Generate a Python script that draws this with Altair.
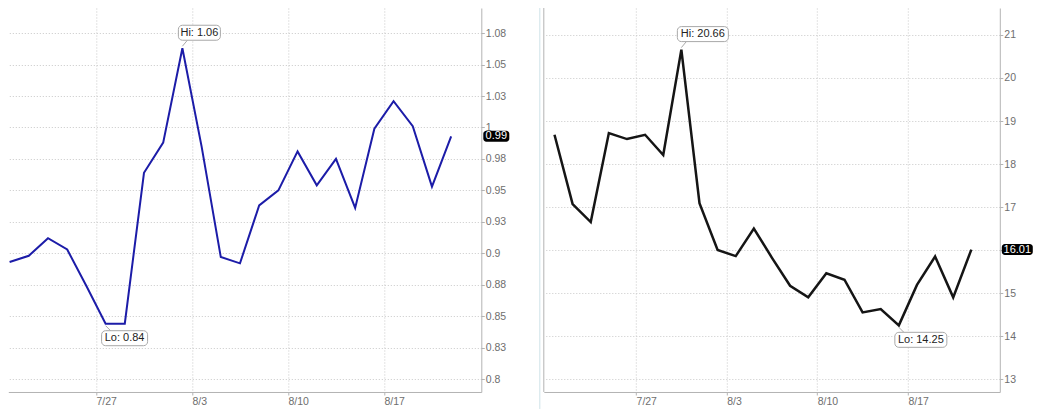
# imports
import pandas as pd
import altair as alt

# trading days shown on both panels
dates = ['7/20', '7/21', '7/22', '7/23', '7/24',
         '7/27', '7/28', '7/29', '7/30', '7/31',
         '8/3', '8/4', '8/5', '8/6', '8/7',
         '8/10', '8/11', '8/12', '8/13', '8/14',
         '8/17', '8/18', '8/19', '8/20']
week_labels = ['7/27', '8/3', '8/10', '8/17']

# series
left_values = [0.893, 0.898, 0.912, 0.903, 0.874, 0.844, 0.844, 0.964, 0.988, 1.063,
               0.985, 0.897, 0.892, 0.938, 0.950, 0.981, 0.954, 0.975, 0.936, 0.999,
               1.021, 1.001, 0.953, 0.993]
right_values = [18.68, 17.07, 16.65, 18.72, 18.58, 18.68, 18.21, 20.66, 17.09, 16.00,
                15.86, 16.50, 15.82, 15.17, 14.90, 15.46, 15.31, 14.55, 14.63, 14.25,
                15.19, 15.85, 14.90, 16.01]

# y ticks and the labels the chart prints for them
left_ticks = [0.8, 0.825, 0.85, 0.875, 0.9, 0.925, 0.95, 0.975, 1.0, 1.025, 1.05, 1.075]
left_tick_labels = ['0.8', '0.83', '0.85', '0.88', '0.9', '0.93', '0.95', '0.98', '1',
                    '1.03', '1.05', '1.08']
right_ticks = [13, 14, 15, 16, 17, 18, 19, 20, 21]
right_tick_labels = ['13', '14', '15', '16', '17', '18', '19', '20', '21']

FONT = 'Liberation Sans'
AXIS_GRAY = '#b4b4b4'
GRID_GRAY = '#c8c8c8'
LABEL_GRAY = '#6e6e6e'
SEP_COLOR = '#cfe3e8'
HEIGHT = 384


def lookup_expr(values, labels):
    return '[' + ','.join("'%s'" % l for l in labels) + '][indexof([' + \
        ','.join(repr(v) for v in values) + '], datum.value)]'


tick_pos = [dates.index(w) - 0.5 for w in week_labels]


def panel(values, color, stroke, x_domain, y_domain, width, y_ticks, y_labels,
          hi_w, lo_w, tag_w, border=False):
    df = pd.DataFrame({'i': range(len(values)), 'date': dates, 'v': values})

    x = alt.X('i:Q', scale=alt.Scale(domain=x_domain, nice=False, zero=False),
              axis=alt.Axis(values=tick_pos, labelExpr=lookup_expr(tick_pos, week_labels),
                            title=None, labelOverlap=False, labelAlign='left'))
    y = alt.Y('v:Q', scale=alt.Scale(domain=y_domain, nice=False, zero=False),
              axis=alt.Axis(values=y_ticks, orient='right', title=None,
                            labelOverlap=False,
                            labelExpr=lookup_expr(y_ticks, y_labels)))
    x2 = alt.X2('i')
    y2 = alt.Y2('v')

    line = alt.Chart(df).mark_line(color=color, strokeWidth=stroke).encode(
        x=x, y=y, tooltip=['date', 'v'])

    layers = [line]

    # hi / lo callouts
    for kind, w in (('Hi', hi_w), ('Lo', lo_w)):
        row = df.loc[[df.v.idxmax() if kind == 'Hi' else df.v.idxmin()]].copy()
        row['label'] = '%s: %.2f' % (kind, row.v.iloc[0])
        if kind == 'Hi':
            top, bottom, tail = -23, -8, (-2, -8)
        else:
            top, bottom, tail = 7, 22, (2, 7)
        c = alt.Chart(row)
        layers.append(c.mark_rule(color='#a8a8a8', strokeWidth=1, xOffset=0, x2Offset=5,
                                  yOffset=tail[0], y2Offset=tail[1])
                      .encode(x=x, x2=x2, y=y, y2=y2))
        layers.append(c.mark_rect(fill='white', stroke='#a8a8a8', strokeWidth=1, cornerRadius=4,
                                  xOffset=-4, x2Offset=w - 4, yOffset=top, y2Offset=bottom)
                      .encode(x=x, x2=x2, y=y, y2=y2))
        layers.append(c.mark_text(font=FONT, fontSize=11, color='#222222', align='center',
                                  baseline='middle', dx=w / 2 - 4, dy=(top + bottom) / 2)
                      .encode(x=x, y=y, text='label:N'))

    # last value tag on the axis
    last = df.tail(1).copy()
    last['label'] = last.v.map(lambda v: '%.2f' % v)
    lc = alt.Chart(last)
    layers.append(lc.mark_rect(fill='black', cornerRadius=3, yOffset=-5.5, y2Offset=5.5)
                  .encode(x=alt.value(width + 2), x2=alt.value(width + 2 + tag_w),
                          y=y, y2=y2))
    layers.append(lc.mark_text(font=FONT, fontSize=11, color='white', align='center',
                               baseline='middle')
                  .encode(x=alt.value(width + 2 + tag_w / 2), y=y, text='label:N'))

    if border:
        one = alt.Chart(pd.DataFrame({'a': [0]}))
        layers.append(one.mark_rule(color=AXIS_GRAY).encode(
            x=alt.value(0), y=alt.value(0), y2=alt.value(HEIGHT)))
        layers.append(one.mark_rule(color=SEP_COLOR, strokeWidth=1).encode(
            x=alt.value(-4), y=alt.value(0), y2=alt.value(HEIGHT + 17)))

    return alt.layer(*layers).properties(width=width, height=HEIGHT)


left = panel(left_values, '#1c1ca8', 2, [-0.068, 24.57], [0.7897, 1.095], 473,
             left_ticks, left_tick_labels, 42, 46, 26)
right = panel(right_values, '#151515', 2.5, [-0.59, 24.57], [12.70, 21.627], 456,
              right_ticks, right_tick_labels, 51, 52, 31, border=True)

# the stroked line's bounds reach a few px past the plot's left edge; pull them back
pad = {'left': -2.7, 'top': -1, 'right': 0, 'bottom': 0}

chart = (
    alt.hconcat(left, right)
    .properties(spacing=62.5, bounds='flush', padding=pad)
    .configure(background='white', font=FONT)
    .configure_view(stroke=None)
    .configure_axis(grid=True, gridDash=[1, 2], gridColor=GRID_GRAY,
                    domainColor=AXIS_GRAY, tickColor=AXIS_GRAY, tickSize=3,
                    labelOverlap=False, labelFlush=False, labelColor=LABEL_GRAY,
                    labelFontSize=10.5, labelFont=FONT)
    .configure_axisX(labelAlign='left', labelPadding=2)
    .configure_axisY(labelPadding=1)
)

chart.save('out.html', embed_options={'renderer': 'svg', 'actions': False})
